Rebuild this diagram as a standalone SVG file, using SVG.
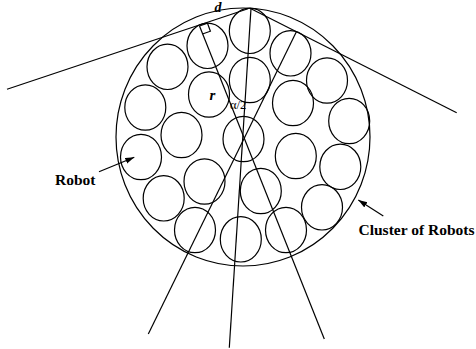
<svg xmlns="http://www.w3.org/2000/svg" width="476" height="349" viewBox="0 0 476 349">
<style>
.s{fill:none;stroke:#000;stroke-width:1.2}
.r{fill:none;stroke:#000;stroke-width:1.2}
.lbl{font-family:"Liberation Serif","Times New Roman",serif;font-weight:bold;fill:#000}
.it{font-family:"Liberation Serif","Times New Roman",serif;font-style:italic;font-weight:bold;fill:#000}
.sm{font-family:"Liberation Serif","Times New Roman",serif;fill:#000}
</style>
<defs>
<marker id="ah" markerUnits="userSpaceOnUse" markerWidth="10" markerHeight="8" refX="9" refY="3" orient="auto">
<path d="M0,0 L9,3 L0,6 Z" fill="#000"/>
</marker>
</defs>
<rect width="476" height="349" fill="#fff"/>
<g id="cluster"><ellipse class="s" cx="243" cy="137" rx="127" ry="129"/></g>
<g id="robots">
<g id="robot1"><ellipse class="r" cx="249.8" cy="30.8" rx="20.5" ry="22.7"/></g>
<g id="robot2"><ellipse class="r" cx="207.5" cy="45.8" rx="20.5" ry="22.7"/></g>
<g id="robot3"><ellipse class="r" cx="290.5" cy="53.3" rx="20.5" ry="22.7"/></g>
<g id="robot4"><ellipse class="r" cx="167.5" cy="66.8" rx="20.5" ry="22.7"/></g>
<g id="robot5"><ellipse class="r" cx="327" cy="80.5" rx="20.5" ry="22.7"/></g>
<g id="robot6"><ellipse class="r" cx="249.8" cy="80" rx="20.5" ry="22.7"/></g>
<g id="robot7"><ellipse class="r" cx="209" cy="94.5" rx="20.5" ry="22.7"/></g>
<g id="robot8"><ellipse class="r" cx="293" cy="103" rx="20.5" ry="22.7"/></g>
<g id="robot9"><ellipse class="r" cx="145.3" cy="107.5" rx="20.5" ry="22.7"/></g>
<g id="robot10"><ellipse class="r" cx="349.2" cy="121" rx="20.5" ry="22.7"/></g>
<g id="robot11"><ellipse class="r" cx="181.5" cy="135" rx="20.5" ry="22.7"/></g>
<g id="robot12"><ellipse class="r" cx="243.5" cy="139" rx="20.5" ry="22.7"/></g>
<g id="robot13"><ellipse class="r" cx="295.8" cy="156" rx="20.5" ry="22.7"/></g>
<g id="robot14"><ellipse class="r" cx="141" cy="157" rx="20.5" ry="22.7"/></g>
<g id="robot15"><ellipse class="r" cx="340.3" cy="166.8" rx="20.5" ry="22.7"/></g>
<g id="robot16"><ellipse class="r" cx="204.5" cy="181.5" rx="20.5" ry="22.7"/></g>
<g id="robot17"><ellipse class="r" cx="260.8" cy="191" rx="20.5" ry="22.7"/></g>
<g id="robot18"><ellipse class="r" cx="163.7" cy="198.3" rx="20.5" ry="22.7"/></g>
<g id="robot19"><ellipse class="r" cx="322" cy="207.3" rx="20.5" ry="22.7"/></g>
<g id="robot20"><ellipse class="r" cx="195" cy="230" rx="20.5" ry="22.7"/></g>
<g id="robot21"><ellipse class="r" cx="240.8" cy="239.3" rx="20.5" ry="22.7"/></g>
<g id="robot22"><ellipse class="r" cx="286" cy="230" rx="20.5" ry="22.7"/></g>
</g>
<g id="connectors">
<line class="s" x1="7" y1="89.3" x2="248" y2="8.8"/>
<line class="s" x1="250" y1="8.3" x2="456.7" y2="112.7"/>
<line class="s" x1="199.5" y1="26" x2="324.3" y2="339"/>
<line class="s" x1="251" y1="8.3" x2="229.3" y2="347.7"/>
<line class="s" x1="296.5" y1="31.5" x2="148.3" y2="334"/>
<polyline class="s" points="199.5,26 207.5,23.2 210.4,31.2 202.4,34"/>
<line class="s" x1="99" y1="171.7" x2="134.3" y2="157.3" marker-end="url(#ah)"/>
<line class="s" x1="383.3" y1="216" x2="358.3" y2="200" marker-end="url(#ah)"/>
</g>
<g id="labels">
<text class="it" x="214.5" y="11.5" font-size="14">d</text>
<text class="it" x="209.5" y="99.5" font-size="15">r</text>
<text class="sm" x="230" y="108.5" font-size="12.5">α/2</text>
<text class="lbl" x="55" y="185" font-size="15.5">Robot</text>
<text class="lbl" x="358.5" y="234.5" font-size="15.5">Cluster of Robots</text>
</g>
</svg>
